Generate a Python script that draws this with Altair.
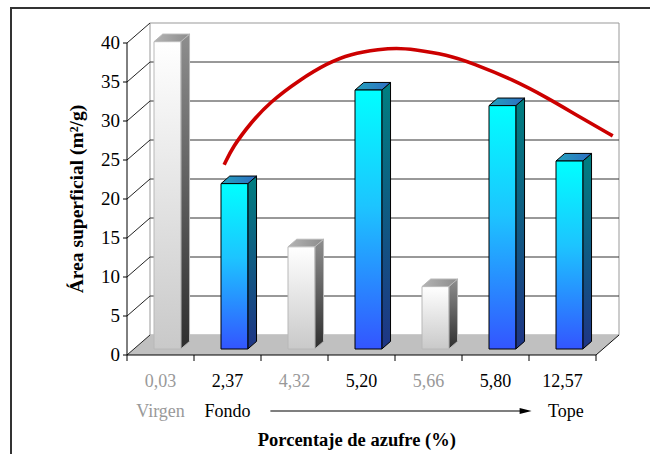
import altair as alt
import pandas as pd

# ---------------------------------------------------------------- data
categories = ["0,03", "2,37", "4,32", "5,20", "5,66", "5,80", "12,57"]
area_values = [39.4, 21.2, 13.1, 33.2, 8.0, 31.2, 24.1]
bar_style = ["gray", "blue", "gray", "blue", "gray", "blue", "blue"]
label_colors = ["#999999", "#000000", "#999999", "#000000", "#999999", "#000000", "#000000"]
y_ticks = [0, 5, 10, 15, 20, 25, 30, 35, 40]

# hand-drawn trend curve (category units, m2/g)
trend_x = [1.45, 1.58, 1.84, 2.13, 2.58, 2.99, 3.33, 3.78, 4.02, 4.27, 4.78, 5.16, 5.76, 6.27, 6.76, 7.25]
trend_y = [24.4, 26.7, 29.7, 32.4, 35.3, 37.4, 38.6, 39.2, 39.35, 39.2, 38.5, 37.4, 35.3, 33.0, 30.5, 28.1]

SERIF = "Times New Roman, Liberation Serif, serif"

# ---------------------------------------------------------------- geometry
W, H = 650, 454
X0, CW = 127, 67.0      # pixel of category 0, pixels per category
Y0, VU = 355, 7.8       # pixel of value 0, pixels per m2/g
Y_MAX = 40
N = len(categories)
DX = 23 / CW            # depth offset of the back wall (category units)
DY = 20 / VU            # depth offset of the back wall (value units)
F1, F2 = 0.30, 0.68     # front / back depth fraction of each bar
BAR_L, BAR_R = 0.30, 0.70

xscale = alt.Scale(domain=[-X0 / CW, (W - X0) / CW], nice=False, zero=False)
yscale = alt.Scale(domain=[(Y0 - H) / VU, Y0 / VU], nice=False, zero=False)


def X(f, **kw):
    return alt.X(f, type="quantitative", scale=xscale, axis=None, **kw)


def Y(f, **kw):
    return alt.Y(f, type="quantitative", scale=yscale, axis=None, **kw)


def X2(f):
    return alt.X2(f)


def Y2(f):
    return alt.Y2(f)


def grad(stops, horizontal=False):
    return alt.LinearGradient(
        gradient="linear",
        stops=[alt.GradientStop(color=c, offset=o) for o, c in stops],
        x1=0, y1=0, x2=1 if horizontal else 0, y2=0 if horizontal else 1,
    )


# ---------------------------------------------------------------- walls & floor
wall = pd.DataFrame({"x": [DX], "x2": [N + DX], "y": [DY], "y2": [Y_MAX + DY]})
back_wall = alt.Chart(wall).mark_rect(fill="white", stroke="#999999", strokeWidth=1).encode(
    x=X("x"), x2=X2("x2"), y=Y("y"), y2=Y2("y2"))

floor = pd.DataFrame({"y": [0, DY], "x": [0, DX], "x2": [N, N + DX]})
floor_layer = alt.Chart(floor).mark_area(orient="horizontal", fill="#C0C0C0").encode(
    y=Y("y"), x=X("x", stack=None), x2=X2("x2"))

grid = pd.DataFrame({"v": [v for v in y_ticks if 0 < v < Y_MAX]})
grid["y"] = grid["v"] + DY
grid["x"] = DX
grid["x2"] = N + DX
grid_layer = alt.Chart(grid).mark_rule(color="#333333", strokeWidth=1).encode(
    x=X("x"), x2=X2("x2"), y=Y("y"))

# diagonals on the side wall, from each tick back to the wall
diag_rows = []
for v in y_ticks:
    diag_rows.append({"v": v, "x": 0, "y": v})
    diag_rows.append({"v": v, "x": DX, "y": v + DY})
diag = pd.DataFrame(diag_rows)
diag_layer = alt.Chart(diag).mark_line(color="#222222", strokeWidth=1).encode(
    x=X("x"), y=Y("y"), detail="v:N")

floor_edges = pd.DataFrame({"seg": [0, 0], "x": [N, N + DX], "y": [0, DY]})
floor_edge_layer = alt.Chart(floor_edges).mark_line(color="#111111", strokeWidth=1).encode(
    x=X("x"), y=Y("y"), detail="seg:N")

# ---------------------------------------------------------------- bars
front_rows, side_rows, top_rows = [], [], []
dd_x, dd_y = (F2 - F1) * DX, (F2 - F1) * DY
for i, (v, s) in enumerate(zip(area_values, bar_style)):
    xl = i + BAR_L + F1 * DX
    xr = i + BAR_R + F1 * DX
    yb = F1 * DY
    yt = v + F1 * DY
    front_rows.append({"bar": i, "style": s, "xl": xl, "xr": xr, "yb": yb, "yt": yt})
    side_rows.append({"bar": i, "style": s, "x": xr, "y": yt, "y2": yb})
    side_rows.append({"bar": i, "style": s, "x": xr + dd_x, "y": yt + dd_y, "y2": yb + dd_y})
    top_rows.append({"bar": i, "style": s, "y": yt, "x": xl, "x2": xr})
    top_rows.append({"bar": i, "style": s, "y": yt + dd_y, "x": xl + dd_x, "x2": xr + dd_x})
front = pd.DataFrame(front_rows)
side = pd.DataFrame(side_rows)
top = pd.DataFrame(top_rows)

looks = {
    "blue": dict(
        front=grad([(0, "#00FFFF"), (0.45, "#1DC4FF"), (1, "#3355FF")]),
        side=grad([(0, "#007F80"), (1, "#1F3585")]),
        top=grad([(0, "#22A3BC"), (1, "#2F6DC4")], horizontal=True),
        stroke="#000000"),
    "gray": dict(
        front=grad([(0, "#FFFFFF"), (1, "#C9C9C9")]),
        side=grad([(0, "#8E8E8E"), (1, "#2E2E2E")]),
        top=grad([(0, "#B4B4B4"), (1, "#8C8C8C")], horizontal=True),
        stroke="#B8B8B8"),
}

bar_layers = []
for s, lk in looks.items():
    f = front[front["style"] == s]
    sd = side[side["style"] == s]
    tp = top[top["style"] == s]
    bar_layers.append(alt.Chart(sd).mark_area(fill=lk["side"], stroke=lk["stroke"], strokeWidth=1).encode(
        x=X("x"), y=Y("y", stack=None), y2=Y2("y2"), detail="bar:N"))
    bar_layers.append(alt.Chart(tp).mark_area(orient="horizontal", fill=lk["top"], stroke=lk["stroke"],
                                              strokeWidth=1).encode(
        y=Y("y"), x=X("x", stack=None), x2=X2("x2"), detail="bar:N"))
    bar_layers.append(alt.Chart(f).mark_rect(fill=lk["front"], stroke=lk["stroke"], strokeWidth=1).encode(
        x=X("xl"), x2=X2("xr"), y=Y("yb"), y2=Y2("yt")))

# ---------------------------------------------------------------- axes
axis_y = alt.Chart(pd.DataFrame({"x": [0], "y": [0], "y2": [Y_MAX]})).mark_rule(color="black").encode(
    x=X("x"), y=Y("y"), y2=Y2("y2"))
axis_x = alt.Chart(pd.DataFrame({"x": [0], "x2": [N], "y": [0]})).mark_rule(color="black").encode(
    x=X("x"), x2=X2("x2"), y=Y("y"))

yt_df = pd.DataFrame({"v": y_ticks, "label": [str(v) for v in y_ticks]})
yt_df["x"] = -4 / CW
yt_df["x2"] = 0
yt_df["lx"] = -7 / CW
ytick_layer = alt.Chart(yt_df).mark_rule(color="black").encode(x=X("x"), x2=X2("x2"), y=Y("v"))
ylab_layer = alt.Chart(yt_df).mark_text(align="right", baseline="middle", font=SERIF,
                                        fontSize=19, color="black").encode(
    x=X("lx"), y=Y("v"), text="label:N")

xt_df = pd.DataFrame({"x": list(range(N + 1))})
xt_df["y"] = 0
xt_df["y2"] = -6 / VU
xtick_layer = alt.Chart(xt_df).mark_rule(color="black").encode(x=X("x"), y=Y("y"), y2=Y2("y2"))

xl_df = pd.DataFrame({"x": [i + 0.5 for i in range(N)], "label": categories, "c": label_colors})
xl_df["y"] = -27 / VU
xlab_layer = alt.Chart(xl_df).mark_text(baseline="middle", font=SERIF, fontSize=18).encode(
    x=X("x"), y=Y("y"), text="label:N", color=alt.Color("c:N", scale=None))

row2 = pd.DataFrame({"x": [0.5, 1.5, 6.55], "label": ["Virgen", "Fondo", "Tope"],
                     "c": ["#999999", "#000000", "#000000"]})
row2["y"] = -57 / VU
row2_layer = alt.Chart(row2).mark_text(baseline="middle", font=SERIF, fontSize=18).encode(
    x=X("x"), y=Y("y"), text="label:N", color=alt.Color("c:N", scale=None))

arrow = pd.DataFrame({"x": [2.14], "x2": [5.95], "y": [-56 / VU]})
arrow_line = alt.Chart(arrow).mark_rule(color="black", strokeWidth=1.2).encode(
    x=X("x"), x2=X2("x2"), y=Y("y"))
arrow_head = alt.Chart(arrow).mark_point(shape="M -1 -0.5 L 1 0 L -1 0.5 Z", filled=True, size=144,
                                         color="black", opacity=1).encode(
    x=X("x2"), y=Y("y"))

xtitle = alt.Chart(pd.DataFrame({"x": [3.43], "y": [-85 / VU], "t": ["Porcentaje de azufre (%)"]})).mark_text(
    baseline="middle", font=SERIF, fontSize=18.5, fontWeight="bold", color="black").encode(
    x=X("x"), y=Y("y"), text="t:N")
ytitle = alt.Chart(pd.DataFrame({"x": [-50 / CW], "y": [Y_MAX / 2], "t": ["Área superficial (m²/g)"]})).mark_text(
    baseline="middle", font=SERIF, fontSize=19.5, fontWeight="bold", color="black", angle=270).encode(
    x=X("x"), y=Y("y"), text="t:N")

# ---------------------------------------------------------------- trend curve
trend = pd.DataFrame({"x": trend_x, "y": trend_y})
trend_layer = alt.Chart(trend).mark_line(color="#CC0000", strokeWidth=3.6, interpolate="basis").encode(
    x=X("x"), y=Y("y"))

# ---------------------------------------------------------------- frame
frame = alt.Chart(pd.DataFrame({"k": [0]})).mark_rect(fill=None, stroke="#333333", strokeWidth=2).encode(
    x=alt.value(11), x2=alt.value(W + 20), y=alt.value(8), y2=alt.value(H + 20))

chart = alt.layer(
    frame, back_wall, floor_layer, grid_layer, diag_layer, floor_edge_layer,
    *bar_layers,
    axis_y, axis_x, ytick_layer, ylab_layer, xtick_layer, xlab_layer, row2_layer,
    arrow_line, arrow_head, xtitle, ytitle, trend_layer,
).properties(
    width=W, height=H, padding=0, autosize=alt.AutoSizeParams(type="none"), background="white",
).configure_view(stroke=None)

chart.save("out.html", embed_options={"renderer": "svg", "actions": False})
